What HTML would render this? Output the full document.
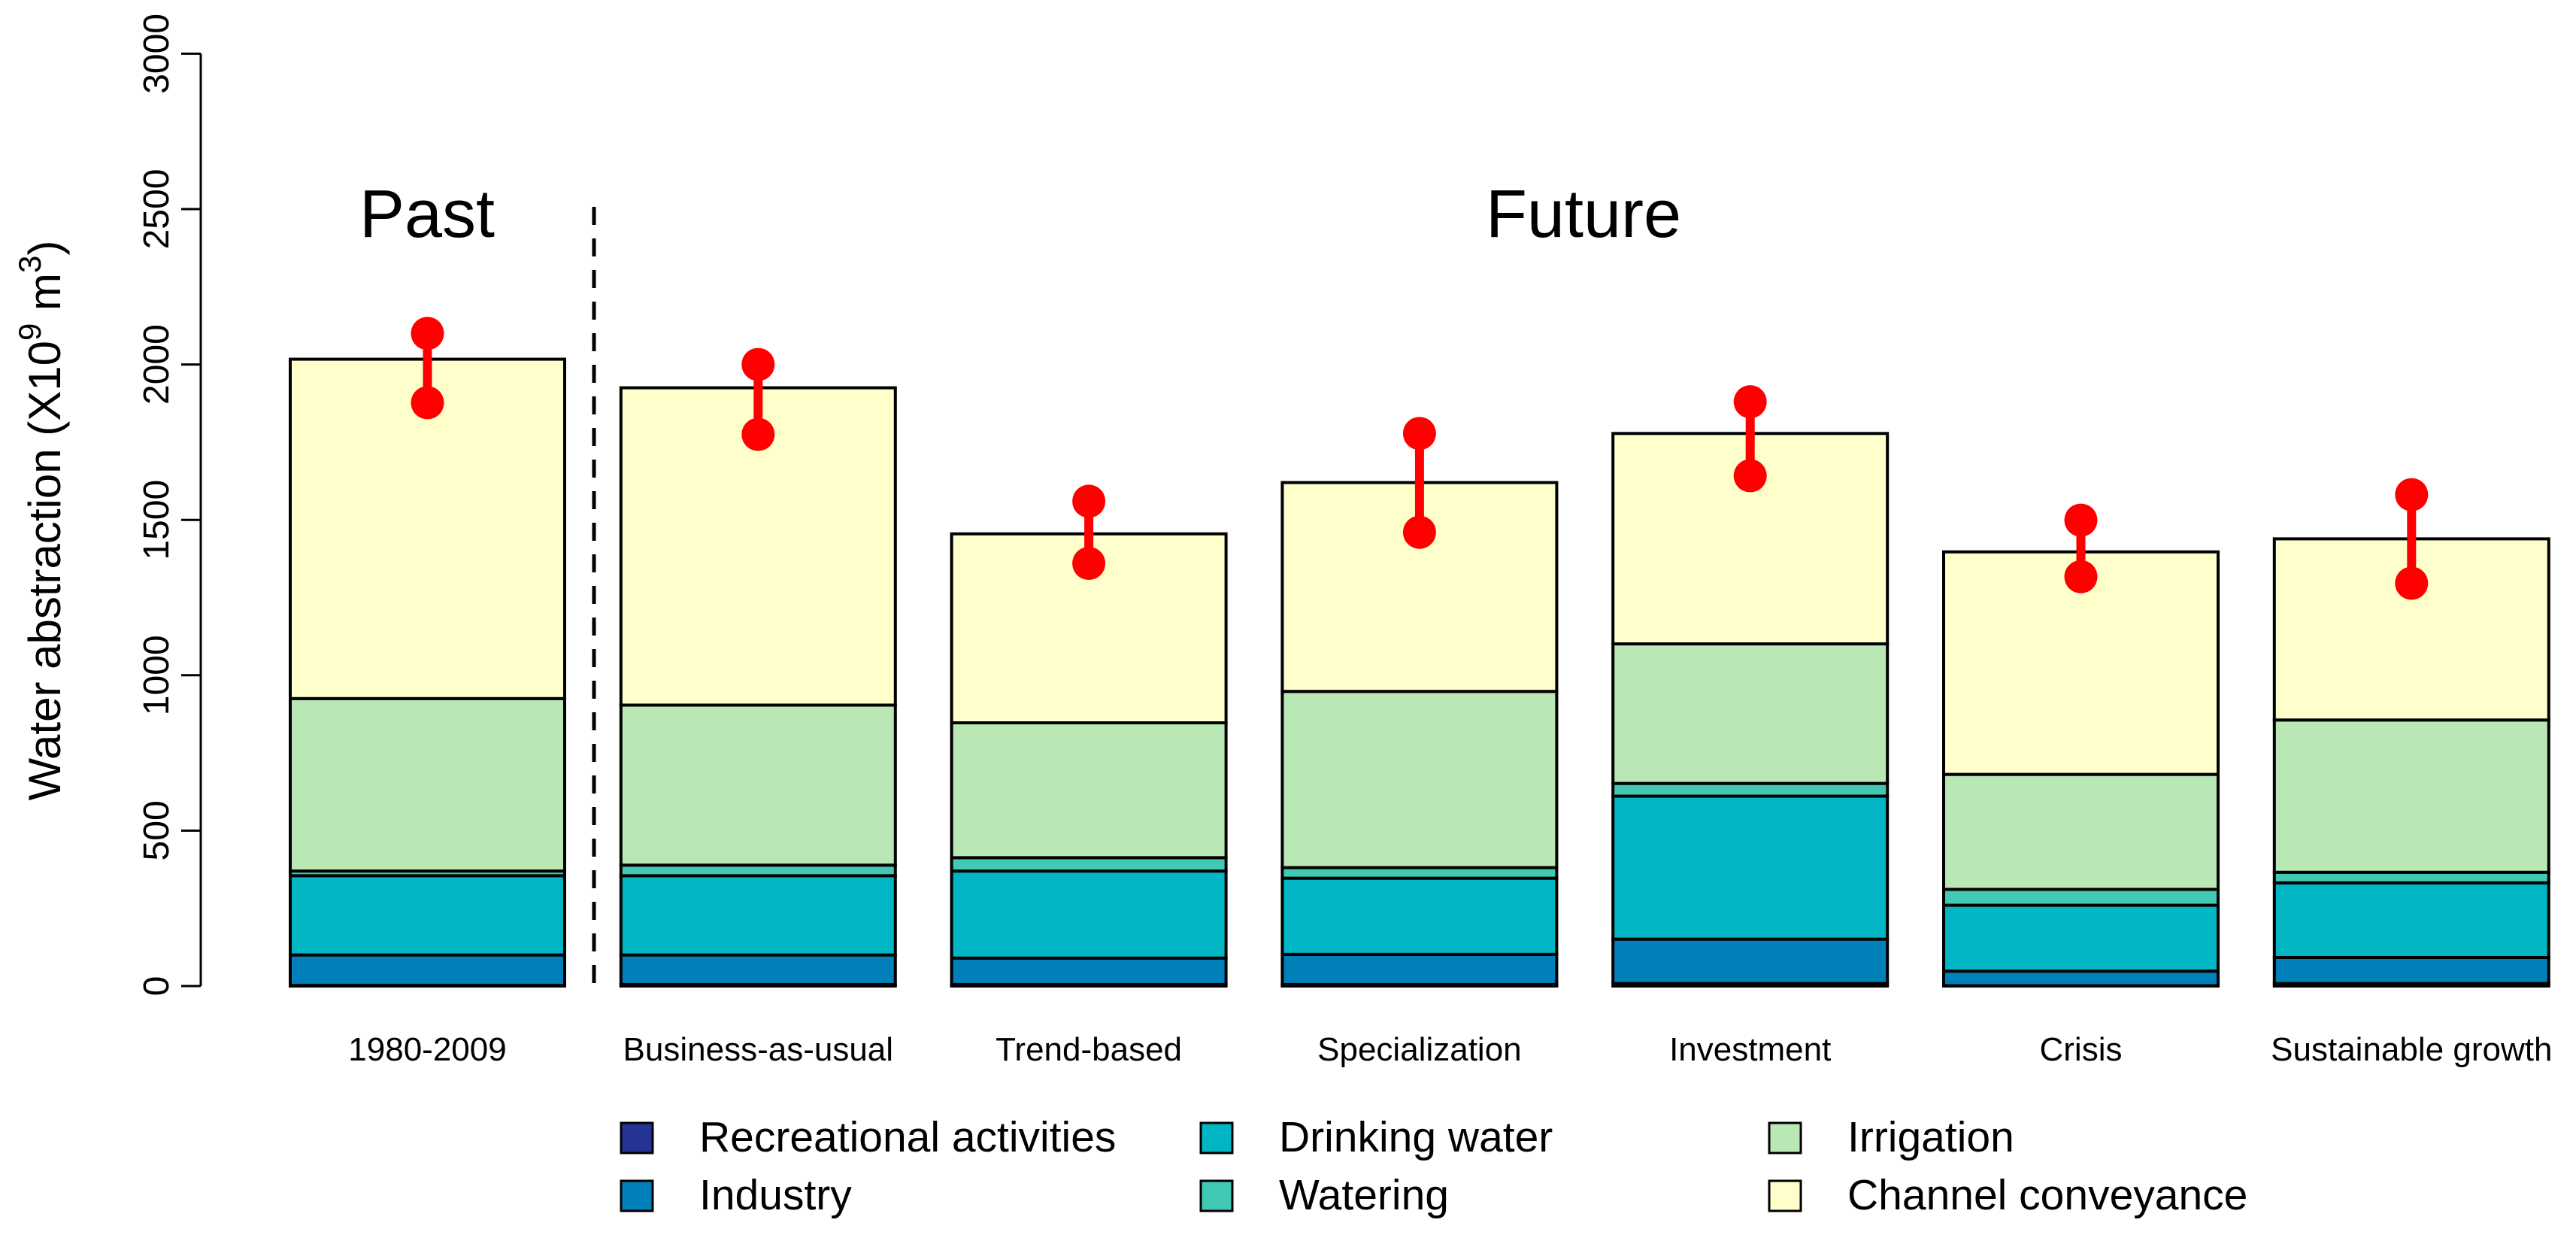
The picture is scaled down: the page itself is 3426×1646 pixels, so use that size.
<!DOCTYPE html>
<html><head><meta charset="utf-8"><style>
html,body{margin:0;padding:0;background:#fff;}
svg{display:block;font-family:"Liberation Sans",Arial,sans-serif;}
</style></head><body>
<svg id="chart" width="3426" height="1646" viewBox="0 0 3426 1646" xmlns="http://www.w3.org/2000/svg">
<g id="axis"></g>
<g id="bars"></g>
<g id="ranges"></g>
<g id="labels"></g>
<line x1="790" y1="275" x2="790" y2="1311" stroke="#000" stroke-width="5" stroke-dasharray="24,18"/>
<text x="568" y="315" font-size="90" text-anchor="middle">Past</text>
<text x="2106" y="315" font-size="90" text-anchor="middle">Future</text>
<text transform="translate(80,692) rotate(-90)" font-size="60" text-anchor="middle">Water abstraction (X10<tspan dy="-26" font-size="42">9</tspan><tspan dy="26"> m</tspan><tspan dy="-26" font-size="42">3</tspan><tspan dy="26">)</tspan></text>
<g id="legend"></g>
</svg>
<script>
const categories=["1980-2009","Business-as-usual","Trend-based","Specialization","Investment","Crisis","Sustainable growth"];
const recreational=[2,5,5,5,8,1,8];
const industry=[100,100,90,102,151,48,92];
const drinking=[355,355,370,347,611,260,332];
const watering=[370,389,413,381,652,311,366];
const irrigation=[925,904,847,948,1101,681,856];
const channel=[2017,1925,1455,1620,1778,1397,1439];
const rangeHigh=[2100,2000,1560,1778,1880,1499,1581];
const rangeLow=[1877,1775,1360,1460,1642,1317,1296];
const yTicks=[0,500,1000,1500,2000,2500,3000];
const seriesNames=["Recreational activities","Industry","Drinking water","Watering","Irrigation","Channel conveyance"];
const colors=["#253494","#0080b8","#00b5c4","#41c9b4","#b9e8b5","#ffffcc"];
const NS="http://www.w3.org/2000/svg";
const y0=1311, yScale=1239.6/3000;
function yPos(v){return y0-v*yScale;}
function xLeft(i){return 386+i*439.8;}
const bw=365;
function mk(tag,attrs,parent){const e=document.createElementNS(NS,tag);for(const k in attrs)e.setAttribute(k,attrs[k]);parent.appendChild(e);return e;}
const axis=document.getElementById('axis');
let l=mk('line',{x1:267,y1:yPos(0),x2:267,y2:yPos(3000),stroke:'#000','stroke-width':3},axis);


yTicks.forEach(t=>{
 const tk=mk('line',{x1:241,y1:yPos(t),x2:267,y2:yPos(t),stroke:'#000','stroke-width':3},axis);
 
 
 const tx=mk('text',{transform:`translate(224,${yPos(t)}) rotate(-90)`,'font-size':48,'text-anchor':'middle'},axis);
 tx.textContent=t;
 
 
});
const cum=[recreational,industry,drinking,watering,irrigation,channel];
const bars=document.getElementById('bars');
categories.forEach((c,i)=>{
 let prev=0;
 cum.forEach((s,k)=>{
  const r=mk('rect',{x:xLeft(i),y:yPos(s[i]),width:bw,height:Math.max(yPos(prev)-yPos(s[i]),0),fill:colors[k],stroke:'#000','stroke-width':4},bars);
  
  
  prev=s[i];
 });
 const lab=mk('text',{x:xLeft(i)+bw/2,y:1410,'font-size':44,'text-anchor':'middle'},document.getElementById('labels'));
 lab.textContent=c;
 
 
 const g=document.getElementById('ranges');
 const cx=xLeft(i)+bw/2;
 const ln=mk('line',{x1:cx,y1:yPos(rangeHigh[i]),x2:cx,y2:yPos(rangeLow[i]),stroke:'#ff0000','stroke-width':12},g);
 
 
 [rangeHigh[i],rangeLow[i]].forEach(v=>{
  const d=mk('circle',{cx:cx,cy:yPos(v),r:22,fill:'#ff0000'},g);
  
  
 });
});
const leg=document.getElementById('legend');
const lx=[826,1597,2353], ly=[1493,1570];
const order=[[0,0],[1,0],[0,1],[1,1],[0,2],[1,2]];
seriesNames.forEach((n,k)=>{
 const row=order[k][0], col=order[k][1];
 const b=mk('rect',{x:lx[col],y:ly[row],width:42,height:40,fill:colors[k],stroke:'#000','stroke-width':3},leg);
 
 
 const t=mk('text',{x:lx[col]+104,y:ly[row]+38,'font-size':57},leg);
 t.textContent=n;
 
 
});
</script>
</body></html>
